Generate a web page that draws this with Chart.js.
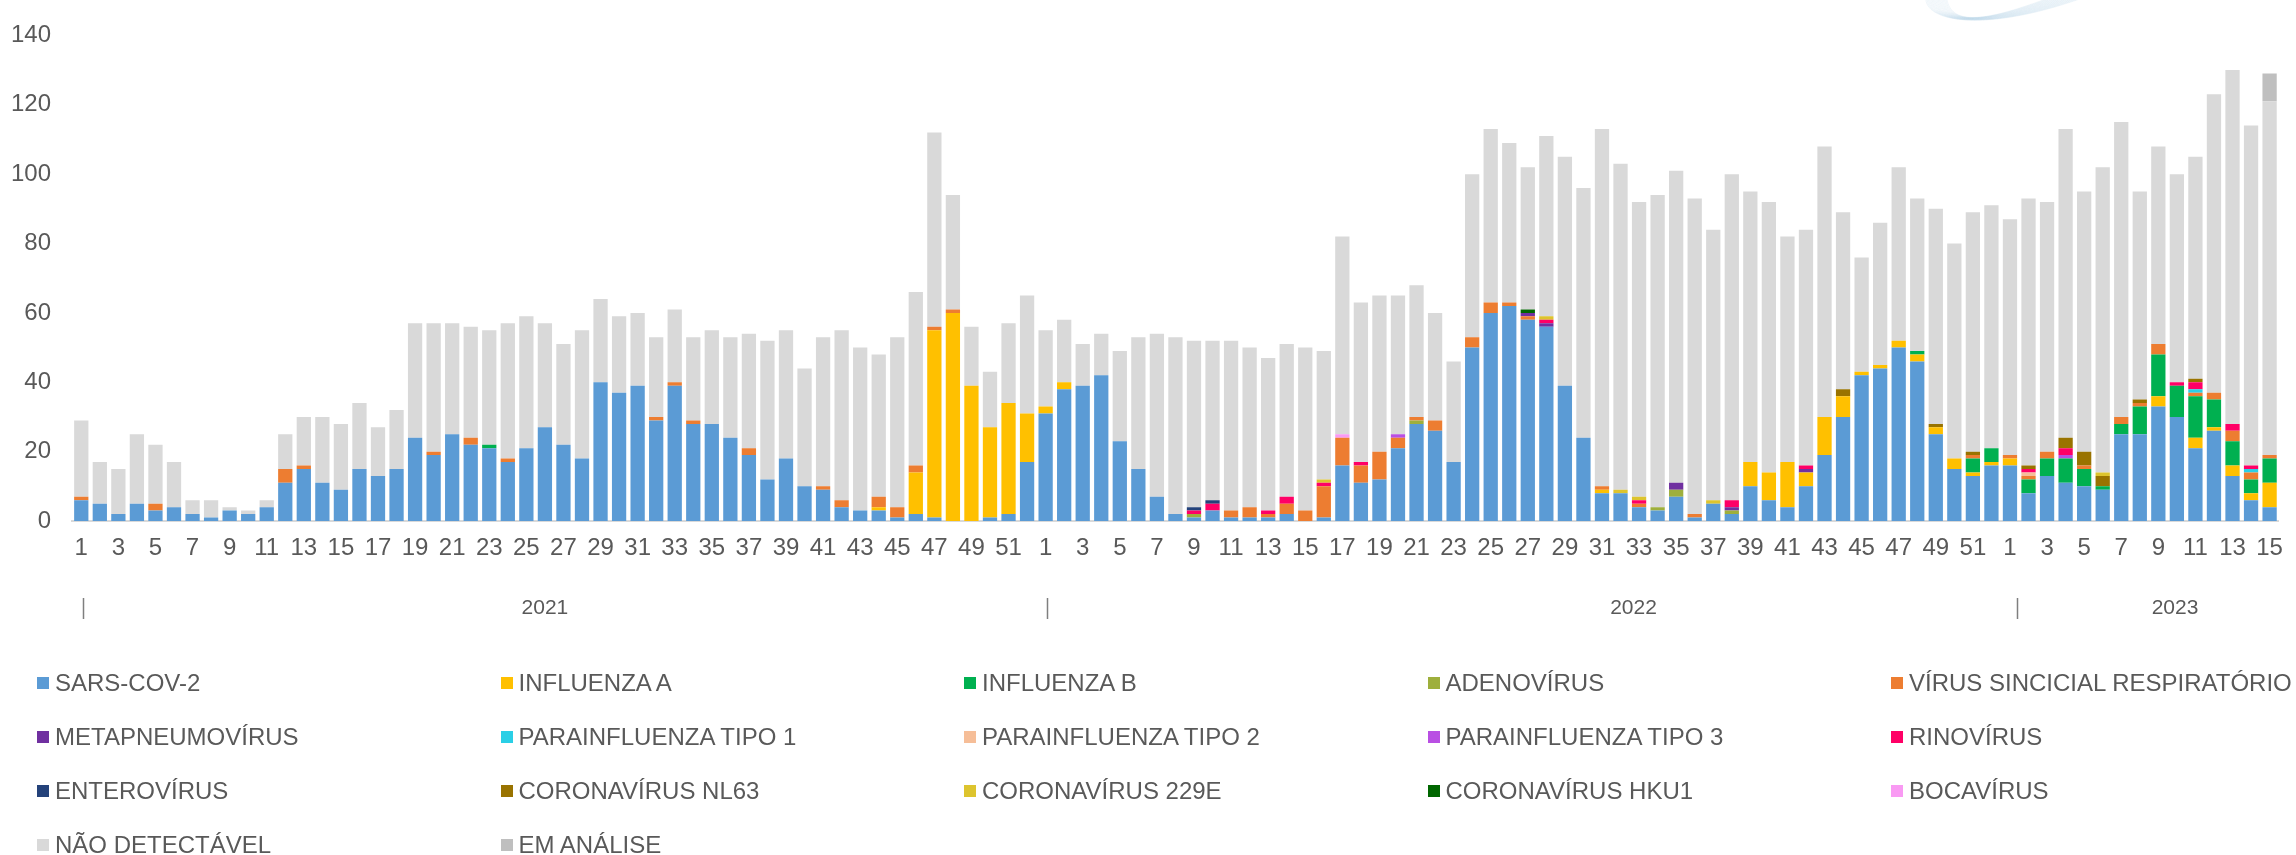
<!DOCTYPE html>
<html>
<head>
<meta charset="utf-8">
<script src="https://cdn.jsdelivr.net/npm/chart.js@4.4.1/dist/chart.umd.min.js"></script>
<style>
  html, body { margin: 0; padding: 0; background: #fff; }
  #wrap { position: relative; width: 2296px; height: 855px; overflow: hidden; }
  #grafico { position: absolute; left: 0; top: 0; }
  .leg { position: absolute; display: flex; align-items: center; height: 28px;
         font-family: "Liberation Sans", Arial, sans-serif; font-size: 24px; color: #595959; white-space: nowrap; }
  .leg .box { width: 12px; height: 12px; margin-right: 6px; flex: none; }
</style>
</head>
<body>
<div id="wrap">
  <canvas id="grafico" width="2296" height="855"></canvas>
</div>
<script>
// semanas epidemiologicas: 2021 (1-52), 2022 (1-52), 2023 (1-15)
const semanas = [
  1,2,3,4,5,6,7,8,9,10,11,12,13,14,15,16,17,18,19,20,21,22,23,24,25,26,27,28,29,30,31,32,33,34,35,36,37,38,39,40,41,42,43,44,45,46,47,48,49,50,51,52,
  1,2,3,4,5,6,7,8,9,10,11,12,13,14,15,16,17,18,19,20,21,22,23,24,25,26,27,28,29,30,31,32,33,34,35,36,37,38,39,40,41,42,43,44,45,46,47,48,49,50,51,52,
  1,2,3,4,5,6,7,8,9,10,11,12,13,14,15
];
const anios = ['2021', '2022', '2023'];

const sarsCov2 = [
  6,5,2,5,3,4,2,1,3,2, 4,11,15,11,9,15,13,15,24,19, 25,22,21,17,21,27,22,18,40,37, 39,29,39,28,28,24,19,12,18,10, 9,4,3,3,1,2,1,0,0,1, 2,17,
  31,38,39,42,23,15,7,2,1,3, 1,1,1,2,0,1,16,11,12,21, 28,26,17,50,60,62,58,56,39,24, 8,8,4,3,7,1,5,2,10,6, 4,10,19,30,42,44,50,46,25,15, 13,16,
  16,8,13,11,10,9,25,25,33,30,21,26,13,6,4
];
const influenzaA = [
  0,0,0,0,0,0,0,0,0,0, 0,0,0,0,0,0,0,0,0,0, 0,0,0,0,0,0,0,0,0,0, 0,0,0,0,0,0,0,0,0,0, 0,0,0,1,0,12,54,60,39,26, 32,14,
  2,2,0,0,0,0,0,0,0,0, 0,0,0,0,0,0,0,0,0,0, 0,0,0,0,0,0,0,0,0,0, 1,0,0,0,0,0,0,0,7,8, 13,4,11,6,1,1,2,2,2,3, 1,1,
  2,0,0,0,0,0,0,0,3,0,3,1,3,2,7
];
const influenzaB = [
  0,0,0,0,0,0,0,0,0,0, 0,0,0,0,0,0,0,0,0,0, 0,0,1,0,0,0,0,0,0,0, 0,0,0,0,0,0,0,0,0,0, 0,0,0,0,0,0,0,0,0,0, 0,0,
  0,0,0,0,0,0,0,0,0,0, 0,0,0,0,0,0,0,0,0,0, 0,0,0,0,0,0,0,0,0,0, 0,0,0,0,0,0,0,0,0,0, 0,0,0,0,0,0,0,1,0,0, 4,4,
  0,4,5,7,5,1,3,8,12,9,12,8,7,4,7
];
const adenovirus = [
  0,0,0,0,0,0,0,0,0,0, 0,0,0,0,0,0,0,0,0,0, 0,0,0,0,0,0,0,0,0,0, 0,0,0,0,0,0,0,0,0,0, 0,0,0,0,0,0,0,0,0,0, 0,0,
  0,0,0,0,0,0,0,0,1,0, 0,0,0,0,0,0,0,0,0,0, 1,0,0,0,0,0,0,0,0,0, 0,0,0,1,2,0,0,1,0,0, 0,0,0,0,0,0,0,0,0,0, 0,0,
  0,0,0,0,0,0,0,0,0,0,0,0,0,0,0
];
const vsr = [
  1,0,0,0,2,0,0,0,0,0, 0,4,1,0,0,0,0,0,0,1, 0,2,0,1,0,0,0,0,0,0, 0,1,1,1,0,0,2,0,0,0, 1,2,0,3,3,2,1,1,0,0, 0,0,
  0,0,0,0,0,0,0,0,0,0, 2,3,1,3,3,9,8,5,8,3, 1,3,0,3,3,1,1,0,0,0, 1,0,1,0,0,1,0,0,0,0, 0,0,0,0,0,0,0,0,0,0, 1,0,
  1,1,2,0,1,0,2,1,3,0,1,2,3,2,1
];
const metapneumovirus = [
  0,0,0,0,0,0,0,0,0,0, 0,0,0,0,0,0,0,0,0,0, 0,0,0,0,0,0,0,0,0,0, 0,0,0,0,0,0,0,0,0,0, 0,0,0,0,0,0,0,0,0,0, 0,0,
  0,0,0,0,0,0,0,0,0,0, 0,0,0,0,0,0,0,0,0,0, 0,0,0,0,0,0,1,1,0,0, 0,0,0,0,2,0,0,1,0,0, 0,1,0,0,0,0,0,0,0,0, 0,0,
  0,0,0,0,0,0,0,0,0,0,0,0,0,0,0
];
const parainfluenza1 = [
  0,0,0,0,0,0,0,0,0,0, 0,0,0,0,0,0,0,0,0,0, 0,0,0,0,0,0,0,0,0,0, 0,0,0,0,0,0,0,0,0,0, 0,0,0,0,0,0,0,0,0,0, 0,0,
  0,0,0,0,0,0,0,0,0,0, 0,0,0,0,0,0,0,0,0,0, 0,0,0,0,0,0,0,0,0,0, 0,0,0,0,0,0,0,0,0,0, 0,0,0,0,0,0,0,0,0,0, 0,0,
  0,0,0,0,0,0,0,0,0,0,1,0,0,1,0
];
const parainfluenza2 = [
  0,0,0,0,0,0,0,0,0,0, 0,0,0,0,0,0,0,0,0,0, 0,0,0,0,0,0,0,0,0,0, 0,0,0,0,0,0,0,0,0,0, 0,0,0,0,0,0,0,0,0,0, 0,0,
  0,0,0,0,0,0,0,0,0,0, 0,0,0,0,0,0,0,0,0,0, 0,0,0,0,0,0,0,0,0,0, 0,0,0,0,0,0,0,0,0,0, 0,0,0,0,0,0,0,0,0,0, 0,0,
  0,1,0,0,0,0,0,0,0,0,0,0,0,0,0
];
const parainfluenza3 = [
  0,0,0,0,0,0,0,0,0,0, 0,0,0,0,0,0,0,0,0,0, 0,0,0,0,0,0,0,0,0,0, 0,0,0,0,0,0,0,0,0,0, 0,0,0,0,0,0,0,0,0,0, 0,0,
  0,0,0,0,0,0,0,0,0,0, 0,0,0,0,0,0,0,0,0,1, 0,0,0,0,0,0,0,0,0,0, 0,0,0,0,0,0,0,0,0,0, 0,0,0,0,0,0,0,0,0,0, 0,0,
  0,0,0,1,0,0,0,0,0,0,0,0,0,0,0
];
const rinovirus = [
  0,0,0,0,0,0,0,0,0,0, 0,0,0,0,0,0,0,0,0,0, 0,0,0,0,0,0,0,0,0,0, 0,0,0,0,0,0,0,0,0,0, 0,0,0,0,0,0,0,0,0,0, 0,0,
  0,0,0,0,0,0,0,0,1,2, 0,0,1,2,0,1,0,1,0,0, 0,0,0,0,0,0,0,1,0,0, 0,0,1,0,0,0,0,2,0,0, 0,1,0,0,0,0,0,0,0,0, 0,0,
  0,1,0,2,0,0,0,0,0,1,2,0,2,1,0
];
const enterovirus = [
  0,0,0,0,0,0,0,0,0,0, 0,0,0,0,0,0,0,0,0,0, 0,0,0,0,0,0,0,0,0,0, 0,0,0,0,0,0,0,0,0,0, 0,0,0,0,0,0,0,0,0,0, 0,0,
  0,0,0,0,0,0,0,0,1,1, 0,0,0,0,0,0,0,0,0,0, 0,0,0,0,0,0,0,0,0,0, 0,0,0,0,0,0,0,0,0,0, 0,0,0,0,0,0,0,0,0,0, 0,0,
  0,0,0,0,0,0,0,0,0,0,0,0,0,0,0
];
const coronaNL63 = [
  0,0,0,0,0,0,0,0,0,0, 0,0,0,0,0,0,0,0,0,0, 0,0,0,0,0,0,0,0,0,0, 0,0,0,0,0,0,0,0,0,0, 0,0,0,0,0,0,0,0,0,0, 0,0,
  0,0,0,0,0,0,0,0,0,0, 0,0,0,0,0,0,0,0,0,0, 0,0,0,0,0,0,0,0,0,0, 0,0,0,0,0,0,0,0,0,0, 0,0,0,2,0,0,0,0,1,0, 1,0,
  0,1,0,3,4,3,0,1,0,0,1,0,0,0,0
];
const corona229E = [
  0,0,0,0,0,0,0,0,0,0, 0,0,0,0,0,0,0,0,0,0, 0,0,0,0,0,0,0,0,0,0, 0,0,0,0,0,0,0,0,0,0, 0,0,0,0,0,0,0,0,0,0, 0,0,
  0,0,0,0,0,0,0,0,0,0, 0,0,0,0,0,1,0,0,0,0, 0,0,0,0,0,0,0,1,0,0, 0,1,1,0,0,0,1,0,0,0, 0,0,0,0,0,0,0,0,0,0, 0,0,
  0,0,0,0,0,1,0,0,0,0,0,0,0,0,0
];
const coronaHKU1 = [
  0,0,0,0,0,0,0,0,0,0, 0,0,0,0,0,0,0,0,0,0, 0,0,0,0,0,0,0,0,0,0, 0,0,0,0,0,0,0,0,0,0, 0,0,0,0,0,0,0,0,0,0, 0,0,
  0,0,0,0,0,0,0,0,0,0, 0,0,0,0,0,0,0,0,0,0, 0,0,0,0,0,0,1,0,0,0, 0,0,0,0,0,0,0,0,0,0, 0,0,0,0,0,0,0,0,0,0, 0,0,
  0,0,0,0,0,0,0,0,0,0,0,0,0,0,0
];
const bocavirus = [
  0,0,0,0,0,0,0,0,0,0, 0,0,0,0,0,0,0,0,0,0, 0,0,0,0,0,0,0,0,0,0, 0,0,0,0,0,0,0,0,0,0, 0,0,0,0,0,0,0,0,0,0, 0,0,
  0,0,0,0,0,0,0,0,0,0, 0,0,0,0,0,0,1,0,0,0, 0,0,0,0,0,0,0,0,0,0, 0,0,0,0,0,0,0,0,0,0, 0,0,0,0,0,0,0,0,0,0, 0,0,
  0,0,0,0,0,0,0,0,0,0,0,0,0,0,0
];
const naoDetectavel = [
  22,12,13,20,17,13,4,5,1,1, 2,10,14,19,19,19,14,17,33,37, 32,32,33,39,38,30,29,37,24,22, 21,23,21,24,27,29,33,40,37,34, 43,49,47,41,49,50,56,33,17,16, 23,34,
  22,18,12,12,26,38,47,51,48,46, 49,46,44,44,47,37,57,46,45,40, 38,31,29,47,50,46,41,52,66,72, 103,94,85,90,90,91,78,94,78,78, 65,68,78,51,33,41,50,44,62,62, 69,70,
  68,77,72,89,75,88,85,60,57,60,64,86,102,98,102
];
const emAnalise = [
  0,0,0,0,0,0,0,0,0,0, 0,0,0,0,0,0,0,0,0,0, 0,0,0,0,0,0,0,0,0,0, 0,0,0,0,0,0,0,0,0,0, 0,0,0,0,0,0,0,0,0,0, 0,0,
  0,0,0,0,0,0,0,0,0,0, 0,0,0,0,0,0,0,0,0,0, 0,0,0,0,0,0,0,0,0,0, 0,0,0,0,0,0,0,0,0,0, 0,0,0,0,0,0,0,0,0,0, 0,0,
  0,0,0,0,0,0,0,0,0,0,0,0,0,0,8
];

const series = [
  ['SARS-COV-2', sarsCov2, '#5B9BD5'],
  ['INFLUENZA A', influenzaA, '#FFC000'],
  ['INFLUENZA B', influenzaB, '#00B050'],
  ['ADENOVÍRUS', adenovirus, '#9EAF3C'],
  ['VÍRUS SINCICIAL RESPIRATÓRIO', vsr, '#ED7D31'],
  ['METAPNEUMOVÍRUS', metapneumovirus, '#7030A0'],
  ['PARAINFLUENZA TIPO 1', parainfluenza1, '#2ACFE6'],
  ['PARAINFLUENZA TIPO 2', parainfluenza2, '#F6BE98'],
  ['PARAINFLUENZA TIPO 3', parainfluenza3, '#B94FE3'],
  ['RINOVÍRUS', rinovirus, '#FF0066'],
  ['ENTEROVÍRUS', enterovirus, '#24427A'],
  ['CORONAVÍRUS NL63', coronaNL63, '#997300'],
  ['CORONAVÍRUS 229E', corona229E, '#DDC42E'],
  ['CORONAVÍRUS HKU1', coronaHKU1, '#006600'],
  ['BOCAVÍRUS', bocavirus, '#F99AF3'],
  ['NÃO DETECTÁVEL', naoDetectavel, '#D9D9D9'],
  ['EM ANÁLISE', emAnalise, '#BFBFBF']
];

// posicao dos rotulos de ano (indice de categoria) e inicio de cada ano
const posAnio = [25.0, 83.7, 112.9];
const inicioAnio = [0.1, 52.1, 104.4];

const fonte = '"Liberation Sans", Arial, sans-serif';
const cinza = '#595959';

const extras = {
  id: 'extras',
  beforeDraw(chart) {
    // enfeite claro no canto superior
    const ctx = chart.ctx;
    ctx.save();
    ctx.strokeStyle = 'rgba(170,205,225,0.22)';
    ctx.lineWidth = 0.8;
    for (let k = 0; k < 18; k++) {
      ctx.beginPath();
      ctx.moveTo(1926 + k * 1.2, -4);
      ctx.bezierCurveTo(1922 + k * 1.6, 22 + k * 0.3, 1985, 34 - k * 0.7, 2088 - k * 2, -4);
      ctx.stroke();
    }
    ctx.restore();
  },
  afterDraw(chart) {
    const ctx = chart.ctx;
    const x = chart.scales.x;
    ctx.save();
    ctx.fillStyle = cinza;
    ctx.font = '21px ' + fonte;
    ctx.textAlign = 'center';
    ctx.textBaseline = 'middle';
    anios.forEach((a, i) => ctx.fillText(a, x.getPixelForValue(posAnio[i]), 608));
    ctx.strokeStyle = '#7F7F7F';
    ctx.lineWidth = 1.5;
    inicioAnio.forEach(p => {
      const px = Math.round(x.getPixelForValue(p)) + 0.5;
      ctx.beginPath();
      ctx.moveTo(px, 598);
      ctx.lineTo(px, 619);
      ctx.stroke();
    });
    ctx.restore();
  }
};

const ctx = document.getElementById('grafico').getContext('2d');
const grafico = new Chart(ctx, {
  type: 'bar',
  data: {
    labels: semanas,
    datasets: series.map(s => ({
      label: s[0],
      data: s[1],
      backgroundColor: s[2],
      borderWidth: 0,
      barPercentage: 0.77,
      categoryPercentage: 1.0
    }))
  },
  options: {
    responsive: false,
    devicePixelRatio: 1,
    animation: false,
    layout: { padding: { top: 21, right: 12, left: 0, bottom: 0 } },
    plugins: { legend: { display: false }, tooltip: { enabled: false } },
    scales: {
      x: {
        stacked: true,
        grid: { display: false, drawTicks: false },
        border: { display: true, color: '#D9D9D9', width: 2 },
        ticks: {
          autoSkip: false, maxRotation: 0, minRotation: 0, padding: 13,
          color: cinza, font: { family: fonte, size: 24 },
          callback: (v, i) => (semanas[i] % 2 === 1 ? String(semanas[i]) : '')
        },
        afterFit: s => { s.height = 334; }
      },
      y: {
        stacked: true,
        min: 0, max: 140,
        grid: { display: false, drawTicks: false },
        border: { display: false },
        ticks: { stepSize: 20, padding: 21, color: cinza, font: { family: fonte, size: 24 } },
        afterFit: s => { s.width = 72; }
      }
    }
  },
  plugins: [extras]
});

// legenda em grade (5 colunas)
const wrap = document.getElementById('wrap');
grafico.data.datasets.forEach((ds, i) => {
  const col = i % 5, fila = Math.floor(i / 5);
  const item = document.createElement('div');
  item.className = 'leg';
  item.style.left = (37 + col * 463.5) + 'px';
  item.style.top = (669 + fila * 54) + 'px';
  item.innerHTML = '<span class="box" style="background:' + ds.backgroundColor + '"></span>' + ds.label;
  wrap.appendChild(item);
});
</script>
</body>
</html>
